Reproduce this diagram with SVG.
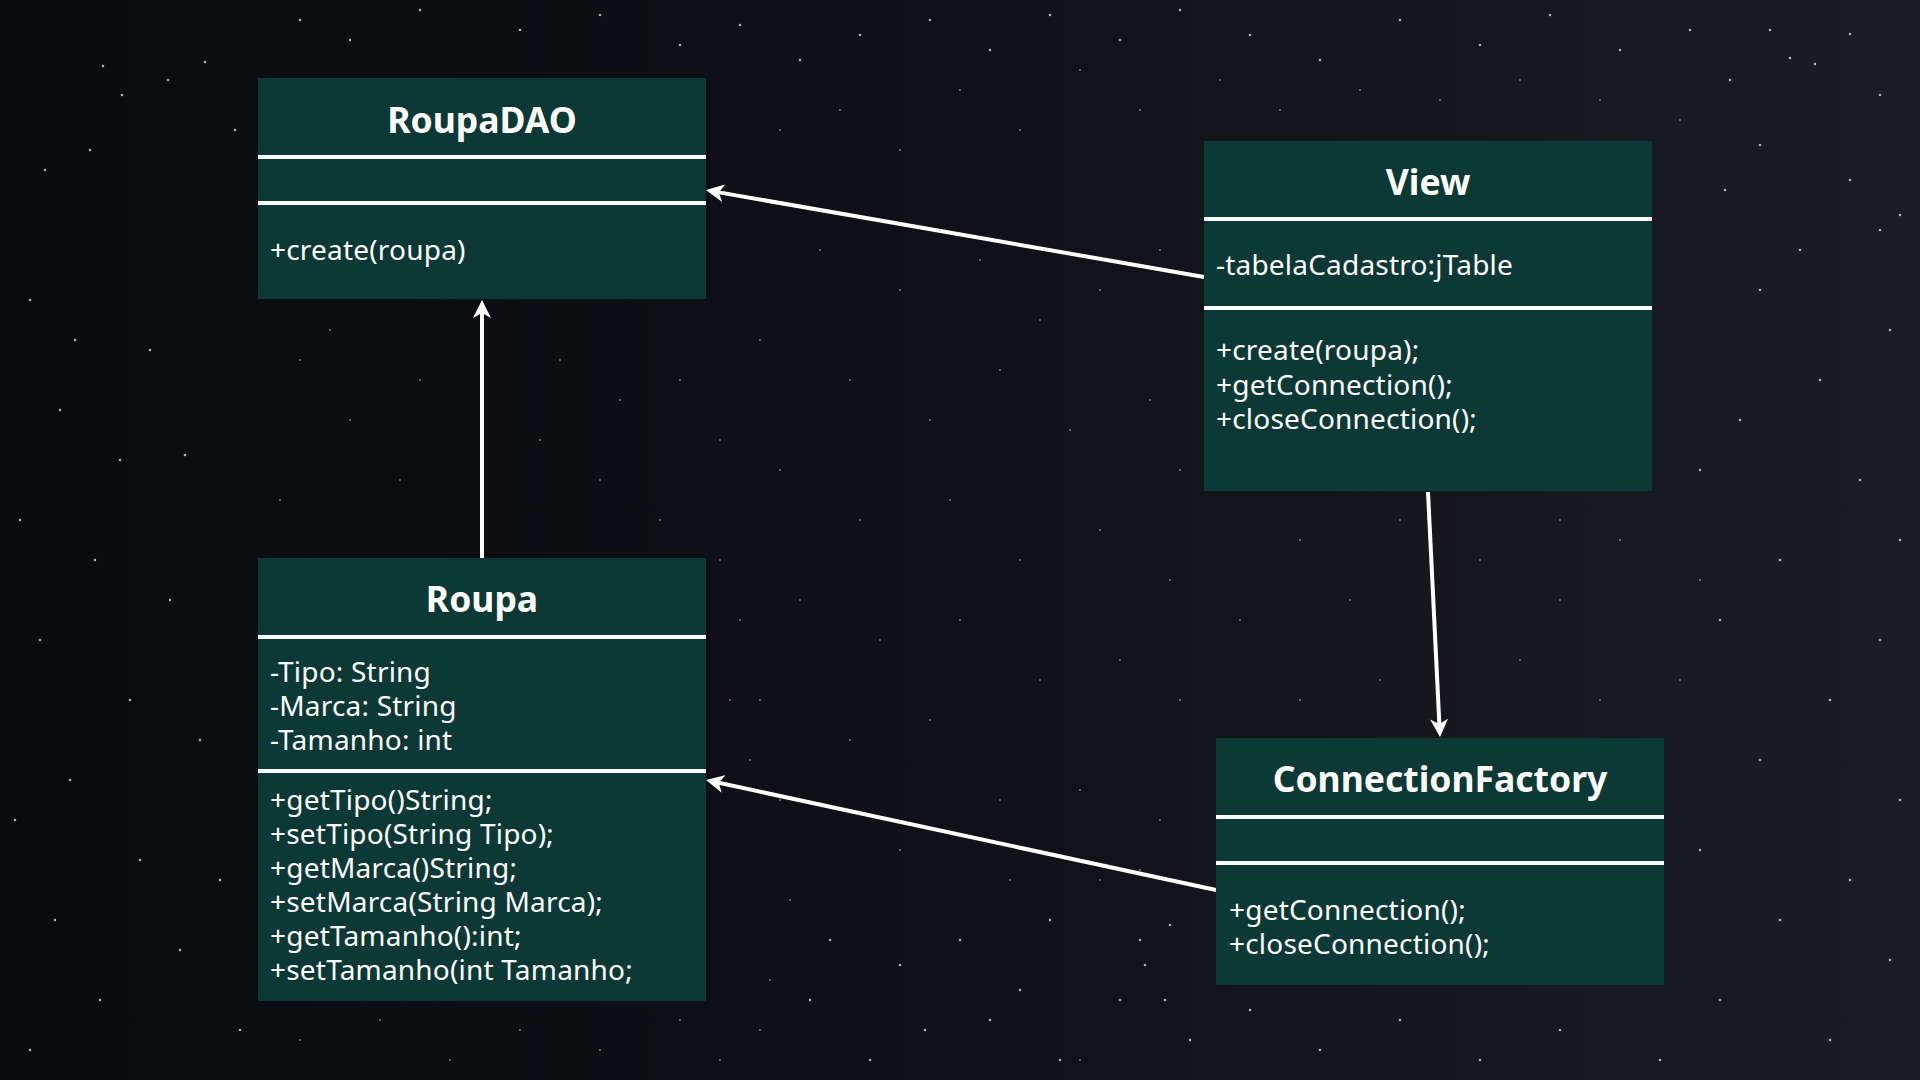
<svg xmlns="http://www.w3.org/2000/svg" width="1920" height="1080" viewBox="0 0 1920 1080">
<defs>
<linearGradient id="bg" x1="0" y1="0" x2="1" y2="0">
<stop offset="0" stop-color="#0a0b0f"/>
<stop offset="0.5" stop-color="#101116"/>
<stop offset="1" stop-color="#1b1d24"/>
</linearGradient>
<marker id="arr" markerUnits="userSpaceOnUse" markerWidth="18" markerHeight="18" refX="12" refY="9" orient="auto" viewBox="0 0 18 18">
<path d="M0,0 L18,9 L0,18 L5,9 Z" fill="#ffffff"/>
</marker>
<style>
.box{fill:#0c3835}
.div{stroke:#ffffff;stroke-width:4}
.title{font-family:"Noto Sans","Open Sans","DejaVu Sans",sans-serif;font-weight:bold;font-size:35.5px;fill:#ffffff;text-anchor:middle}
.txt{font-family:"Noto Sans","Open Sans","DejaVu Sans",sans-serif;font-size:28px;letter-spacing:0.2px;fill:#ffffff}
.conn{stroke:#ffffff;stroke-width:4;fill:none;marker-end:url(#arr)}
.star{stroke:#d0d0d0;stroke-linecap:round;fill:none}
</style>
</defs>
<rect width="1920" height="1080" fill="url(#bg)"/>
<g id="stars">
<path class="star" stroke-width="2.6" opacity="0.85" d="M205 62h0M103 66h0M122 95h0M168 80h0M235 130h0M90 150h0M45 170h0M30 300h0M75 340h0M150 350h0M60 410h0M120 460h0M185 455h0M20 520h0M95 560h0M170 600h0M40 640h0M130 700h0M200 740h0M70 780h0M15 820h0M140 860h0M220 880h0M55 920h0M180 950h0M100 1000h0M30 1050h0M240 1030h0M300 20h0M350 40h0M420 10h0M520 30h0M600 15h0M680 45h0M740 25h0M800 60h0M860 35h0M930 20h0M990 50h0M1050 15h0M1120 40h0M1180 10h0M1250 35h0M1320 60h0M1400 20h0M1480 45h0M1550 15h0M1620 50h0M1690 30h0M1770 30h0M1790 58h0M1850 34h0M1815 64h0M1880 95h0M1730 80h0M1760 145h0M1725 190h0M1850 180h0M1900 215h0M1880 230h0M1800 250h0M1760 290h0M1890 330h0M1820 380h0M1740 420h0M1700 470h0M1860 480h0M1900 540h0M1780 560h0M1720 620h0M1880 640h0M1830 700h0M1760 760h0M1900 800h0M1700 850h0M1850 880h0M1780 920h0M1890 960h0M1720 1000h0M1830 1040h0M1660 1060h0M1560 1030h0M1480 1060h0M1400 1020h0M1320 1050h0M1250 1010h0M1190 1040h0M1120 1000h0M1060 1060h0M990 1020h0M925 1030h0M870 1060h0M810 1000h0M830 940h0M900 965h0M960 940h0M1020 990h0M1050 920h0M1140 940h0M1145 965h0M1165 1000h0M1170 925h0"/>
<path class="star" stroke-width="2" opacity="0.6" d="M1140 870h0M1100 880h0M790 900h0M760 1030h0M770 980h0M1010 880h0M1080 1060h0M900 850h0M780 130h0M840 110h0M900 150h0M960 90h0M1020 130h0M1080 70h0M1140 110h0M820 250h0M900 290h0M980 260h0M1040 320h0M1100 290h0M1160 250h0M760 340h0M850 380h0M930 420h0M1000 370h0M1070 430h0M1150 400h0M1180 470h0M780 470h0M860 520h0M950 500h0M1020 560h0M1100 530h0M1170 580h0M800 600h0M880 640h0M960 620h0M1040 680h0M1120 660h0M1180 700h0M760 700h0M850 740h0M930 720h0M1000 800h0M1080 790h0M1160 820h0M780 800h0M560 360h0M620 400h0M680 380h0M540 440h0M600 480h0M660 520h0M720 440h0M300 360h0M350 420h0M400 480h0M280 500h0M330 330h0M420 380h0M720 560h0M740 620h0M730 700h0M750 760h0M300 1040h0M380 1020h0M450 1060h0M520 1030h0M600 1050h0M680 1020h0M720 1060h0M1400 520h0M1480 560h0M1560 600h0M1620 540h0M1700 580h0M1350 600h0M1300 540h0M1240 620h0M1520 660h0M1600 700h0M1680 680h0M1300 700h0M1380 680h0M1560 520h0M1680 120h0M1600 100h0M1520 80h0M1440 100h0M1360 90h0M1280 110h0M1220 80h0"/>
</g>
<g id="connectors">
<line class="conn" x1="1204" y1="277" x2="711.9" y2="191.1"/>
<line class="conn" x1="482" y1="558" x2="482" y2="306"/>
<line class="conn" x1="1428" y1="492" x2="1439.7" y2="731"/>
<line class="conn" x1="1216" y1="890" x2="711.9" y2="781.3"/>
</g>
<g id="RoupaDAO">
<rect class="box" x="258" y="78" width="448" height="221"/>
<line class="div" x1="258" y1="157" x2="706" y2="157"/>
<line class="div" x1="258" y1="203" x2="706" y2="203"/>
<text class="title" x="482" y="133">RoupaDAO</text>
<text class="txt" x="270" y="260">+create(roupa)</text>
</g>
<g id="View">
<rect class="box" x="1204" y="141" width="448" height="350"/>
<line class="div" x1="1204" y1="219" x2="1652" y2="219"/>
<line class="div" x1="1204" y1="308" x2="1652" y2="308"/>
<text class="title" x="1428" y="195">View</text>
<text class="txt" x="1216" y="275">-tabelaCadastro:jTable</text>
<text class="txt" x="1216" y="360">+create(roupa);</text>
<text class="txt" x="1216" y="394.5">+getConnection();</text>
<text class="txt" x="1216" y="429">+closeConnection();</text>
</g>
<g id="Roupa">
<rect class="box" x="258" y="558" width="448" height="443"/>
<line class="div" x1="258" y1="637" x2="706" y2="637"/>
<line class="div" x1="258" y1="771" x2="706" y2="771"/>
<text class="title" x="482" y="612">Roupa</text>
<text class="txt" x="270" y="682">-Tipo: String</text>
<text class="txt" x="270" y="716">-Marca: String</text>
<text class="txt" x="270" y="750">-Tamanho: int</text>
<text class="txt" x="270" y="810">+getTipo()String;</text>
<text class="txt" x="270" y="844">+setTipo(String Tipo);</text>
<text class="txt" x="270" y="878">+getMarca()String;</text>
<text class="txt" x="270" y="912">+setMarca(String Marca);</text>
<text class="txt" x="270" y="946">+getTamanho():int;</text>
<text class="txt" x="270" y="980">+setTamanho(int Tamanho;</text>
</g>
<g id="ConnectionFactory">
<rect class="box" x="1216" y="738" width="448" height="247"/>
<line class="div" x1="1216" y1="817" x2="1664" y2="817"/>
<line class="div" x1="1216" y1="863" x2="1664" y2="863"/>
<text class="title" x="1440" y="792">ConnectionFactory</text>
<text class="txt" x="1229" y="920">+getConnection();</text>
<text class="txt" x="1229" y="954">+closeConnection();</text>
</g>
</svg>
